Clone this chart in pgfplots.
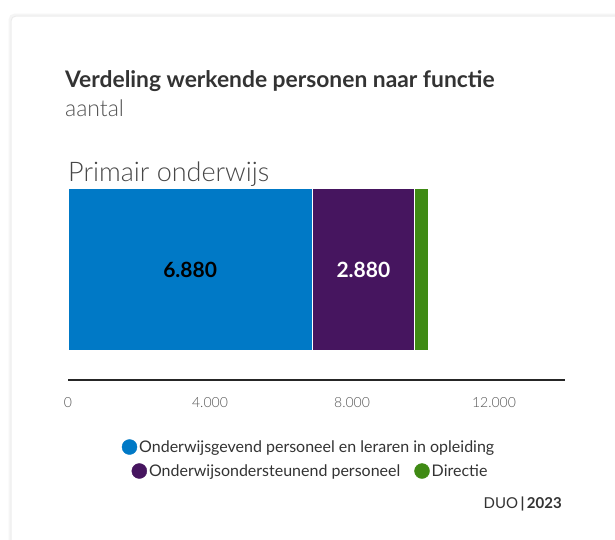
\documentclass[border=0pt]{standalone}
\usepackage{pgfplots}
\pgfplotsset{compat=1.18}
\usepackage{fontspec}
\setmainfont{Lato}
\newfontfamily\lightfont{Lato Light}
\definecolor{blueC}{HTML}{0079C6}
\definecolor{purpC}{HTML}{46155F}
\definecolor{greenC}{HTML}{3F8A14}
\definecolor{txt}{HTML}{333333}
\definecolor{tickc}{HTML}{555555}
\begin{document}
\begin{tikzpicture}
\useasboundingbox (0,0) rectangle (615bp,-540bp);
\fill[white] (0,0) rectangle (615bp,-540bp);
\draw[black!4, line width=3bp, rounded corners=5bp] (10bp,-15bp) rectangle (700bp,-620bp);
\draw[black!8, line width=0.8bp, rounded corners=5bp] (11bp,-16bp) rectangle (700bp,-620bp);
\node[anchor=base west, inner sep=0, text=txt, font=\fontsize{22.8bp}{26bp}\selectfont\bfseries] at (65bp,-87bp) {Verdeling werkende personen naar functie};
\node[anchor=base west, inner sep=0, text=txt!85, font=\lightfont\fontsize{23bp}{26bp}\selectfont] at (65bp,-116bp) {aantal};
\node[anchor=base west, inner sep=0, text=txt!90, font=\lightfont\fontsize{27bp}{30bp}\selectfont] at (68bp,-181bp) {Primair onderwijs};
\begin{axis}[
  at={(68bp,-380bp)}, anchor=south west,
  scale only axis, width=497bp, height=192bp,
  xmin=0, xmax=14000, ymin=0, ymax=1,
  xbar stacked, bar width=163bp,
  axis y line=none, axis x line*=bottom,
  x axis line style={draw=black!85, line width=1.2bp},
  xtick={0,4000,8000,12000}, major tick length=0pt,
  scaled x ticks=false,
  /pgf/number format/1000 sep={.},
  /pgf/number format/assume math mode=true,
  xticklabel style={font=\lightfont\fontsize{14bp}{16bp}\selectfont, text=tickc, yshift=-14bp},
  point meta=explicit,
  clip=false,
  every axis plot/.append style={draw=white, line width=1.4bp},
]
\addplot[fill=blueC, draw=white, nodes near coords,
  every node near coord/.append style={anchor=center, text=black, font=\bfseries\fontsize{21bp}{24bp}\selectfont}]
  coordinates {(6880,0.5755) [6880]};
\addplot[fill=purpC, draw=white, nodes near coords,
  every node near coord/.append style={anchor=center, text=white, font=\bfseries\fontsize{21bp}{24bp}\selectfont}]
  coordinates {(2880,0.5755) [2880]};
\addplot[fill=greenC, draw=white] coordinates {(410,0.5755) [410]};
\end{axis}
\begin{axis}[
  at={(68bp,-380bp)}, anchor=south west,
  scale only axis, width=497bp, height=192bp,
  hide axis, xmin=0, xmax=1, ymin=0, ymax=1,
  legend columns=-1,
  legend style={at={(0.485,-0.349)}, anchor=center, draw=none, fill=none,
    font=\fontsize{16bp}{19bp}\selectfont, text=txt, legend cell align=left, inner sep=0pt,
    /tikz/every even column/.append style={column sep=12bp}},
]
\addlegendimage{legend image code/.code={\fill[blueC] (0bp,0bp) circle (7.5bp);}}
\addlegendentry{Onderwijsgevend personeel en leraren in opleiding}
\end{axis}
\begin{axis}[
  at={(68bp,-380bp)}, anchor=south west,
  scale only axis, width=497bp, height=192bp,
  hide axis, xmin=0, xmax=1, ymin=0, ymax=1,
  legend columns=-1,
  legend style={at={(0.488,-0.474)}, anchor=center, draw=none, fill=none,
    font=\fontsize{16bp}{19bp}\selectfont, text=txt, legend cell align=left, inner sep=0pt,
    /tikz/every even column/.append style={column sep=12bp}},
]
\addlegendimage{legend image code/.code={\fill[purpC] (0bp,0bp) circle (7.5bp);}}
\addlegendentry{Onderwijsondersteunend personeel}
\addlegendimage{legend image code/.code={\fill[greenC] (0bp,0bp) circle (7.5bp);}}
\addlegendentry{Directie}
\end{axis}
\node[anchor=base east, inner sep=0, text=txt, font=\fontsize{15bp}{18bp}\selectfont] at (562bp,-508bp) {DUO\,\textbf{|\,2023}};
\end{tikzpicture}
\end{document}
